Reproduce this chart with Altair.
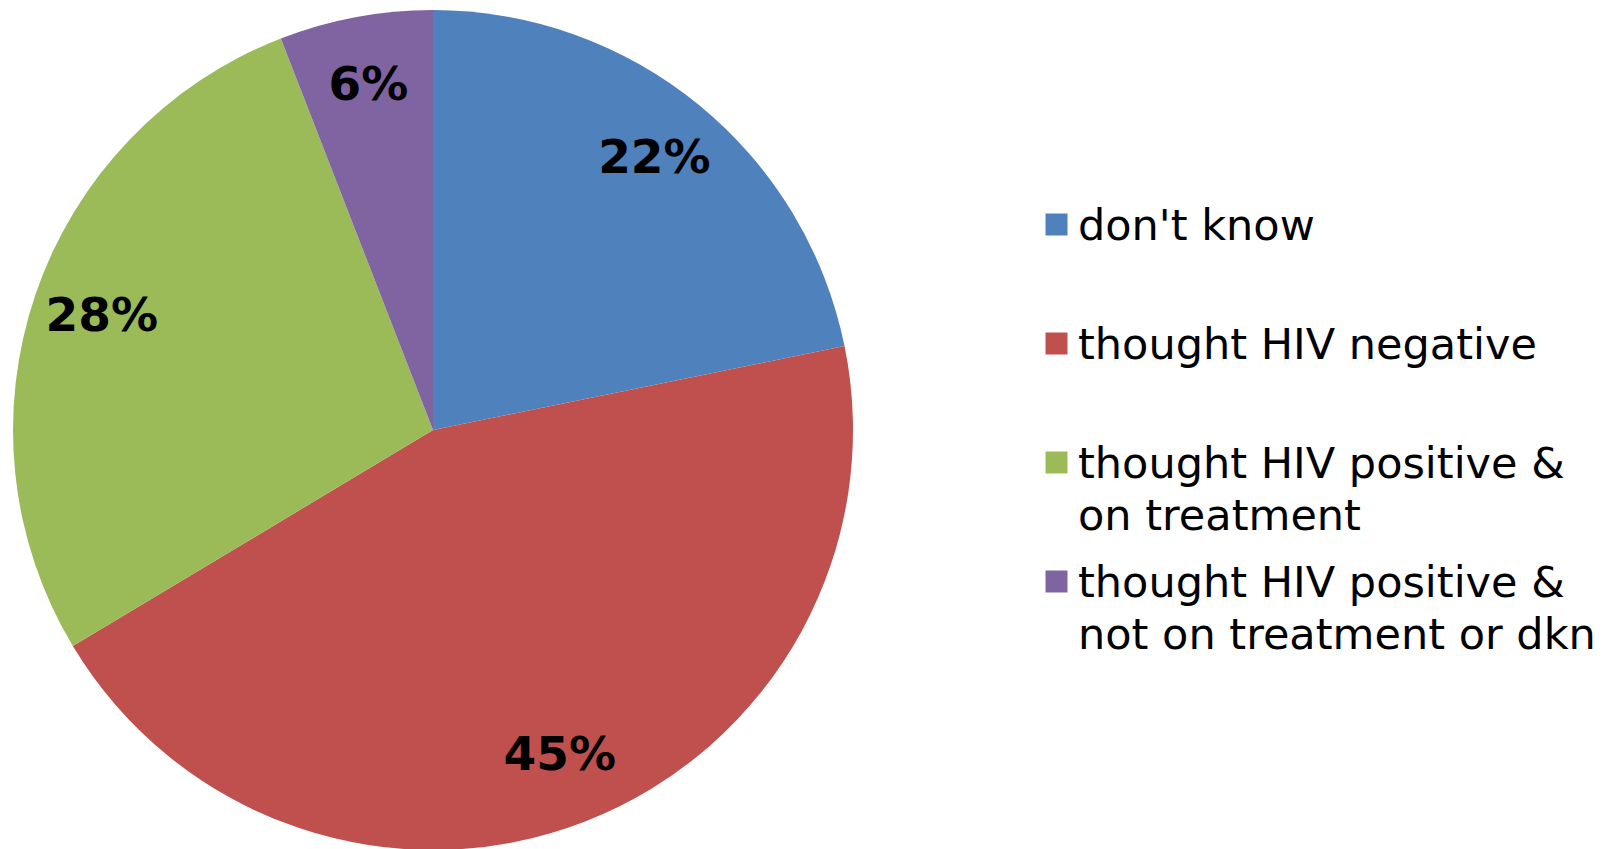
import altair as alt
import pandas as pd

categories = [
    "don't know",
    "thought HIV negative",
    "thought HIV positive & on treatment",
    "thought HIV positive & not on treatment or dkn",
]
values = [21.8, 44.6, 27.7, 5.9]
labels = ["22%", "45%", "28%", "6%"]
colors = ["#4F81BD", "#C0504D", "#9BBB59", "#8064A2"]
order = [0, 1, 2, 3]

df = pd.DataFrame({"category": categories, "value": values, "label": labels, "order": order})

base = alt.Chart(df).encode(
    theta=alt.Theta("value:Q", stack=True),
    order=alt.Order("order:Q", sort="ascending"),
    x=alt.value(425),
    y=alt.value(422),
)

color = alt.Color(
    "category:N",
    scale=alt.Scale(domain=categories, range=colors),
    legend=alt.Legend(
        title=None,
        orient="none",
        legendX=1027,
        legendY=195,
        symbolType="square",
        symbolSize=484,
        symbolStrokeWidth=0,
        labelFont="DejaVu Sans",
        labelFontSize=43,
        labelColor="black",
        labelLimit=0,
        labelOffset=0,
        labelBaseline="alphabetic",
        rowPadding=21,
        gridAlign="all",
        padding=0,
        offset=0,
        labelExpr="split(replace(datum.label, ' & ', ' &|'), '|')",
    ),
)

arcs = base.mark_arc(outerRadius=420).encode(color=color)
text = base.mark_text(
    radius=350, font="DejaVu Sans", fontWeight="bold", fontSize=47, color="black"
).encode(text="label:N")

chart = (
    alt.layer(arcs, text)
    .properties(width=1597, height=841, autosize=alt.AutoSizeParams(type="none"), padding=0)
    .configure(style={"guide-label": {"lineHeight": 52, "dy": 15.5}})
    .configure_view(stroke=None)
)

chart.save("out.html", embed_options={"renderer": "svg", "actions": False})
